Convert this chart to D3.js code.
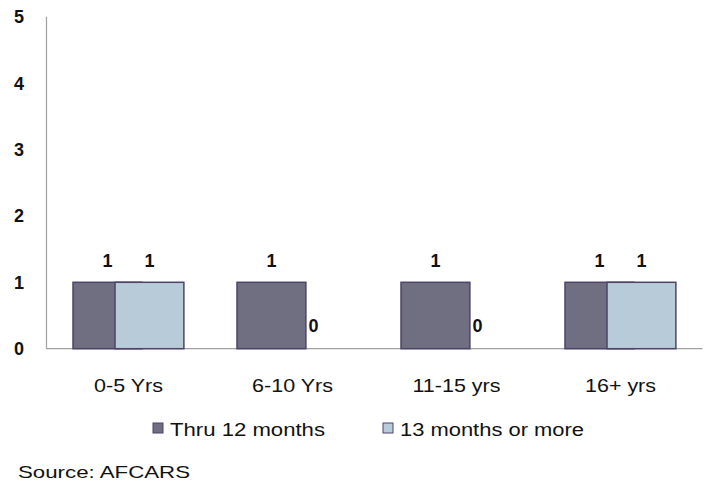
<!DOCTYPE html>
<html>
<head>
<meta charset="utf-8">
<script src="https://cdn.jsdelivr.net/npm/d3@7"></script>
<style>
  html, body { margin: 0; padding: 0; background: #fff; }
  svg { display: block; font-family: Arial, "Liberation Sans", sans-serif; }
</style>
</head>
<body>
<svg id="chart" width="707" height="484"></svg>
<script>
const categories = ["0-5 Yrs", "6-10 Yrs", "11-15 yrs", "16+ yrs"];
const seriesNames = ["Thru 12 months", "13 months or more"];
const thru12 = [1, 1, 1, 1];
const over13 = [1, 0, 0, 1];
const yTicks = [0, 1, 2, 3, 4, 5];
const sourceText = "Source: AFCARS";

const colors = ["#6f6f81", "#b8cbd9"];
const strokeCol = "#4e4368";

const svg = d3.select("#chart");
const x = d3.scaleBand().domain(categories).range([46.5, 702.5]).padding(0);
const y = d3.scaleLinear().domain([0, 5]).range([348.7, 16.7]);

const bw = x.bandwidth();
const barW = bw * 0.42;
const offsets = [bw * 0.1616, bw * 0.4177];
const series = [thru12, over13];

// axes lines
svg.append("line").attr("x1", 46.5).attr("x2", 46.5).attr("y1", y(5)).attr("y2", y(0))
  .attr("stroke", "#a0a0a0").attr("stroke-width", 1.2);
svg.append("line").attr("x1", 46.5).attr("x2", 702.5).attr("y1", y(0)).attr("y2", y(0))
  .attr("stroke", "#a0a0a0").attr("stroke-width", 1.2);

// y tick labels
svg.append("g").selectAll("text").data(yTicks).join("text")
  .attr("x", 24).attr("y", d => y(d)).attr("dy", "0.36em")
  .attr("text-anchor", "end").attr("font-size", 18).attr("font-weight", "bold")
  .attr("fill", "#111").text(d => d);

// bars
series.forEach((vals, si) => {
  svg.append("g").selectAll("rect").data(categories).join("rect")
    .attr("x", d => x(d) + offsets[si])
    .attr("y", (d, i) => y(vals[i]))
    .attr("width", barW)
    .attr("height", (d, i) => y(0) - y(vals[i]))
    .attr("fill", colors[si])
    .attr("stroke", strokeCol)
    .attr("stroke-width", 1.5)
    .attr("display", (d, i) => vals[i] > 0 ? null : "none");
});

// data labels
series.forEach((vals, si) => {
  svg.append("g").selectAll("text").data(categories).join("text")
    .attr("x", d => x(d) + offsets[si] + barW / 2)
    .attr("y", (d, i) => vals[i] > 0 ? y(vals[i]) - 15.5 : y(0) - 16.5)
    .attr("text-anchor", "middle").attr("font-size", 18).attr("font-weight", "bold")
    .attr("fill", "#111").text((d, i) => vals[i]);
});

// category labels
const catWidths = [69, 81, 88, 71];
svg.append("g").selectAll("text").data(categories).join("text")
  .attr("x", d => x(d) + bw / 2).attr("y", 392)
  .attr("text-anchor", "middle").attr("font-size", 18)
  .attr("fill", "#111")
  .attr("textLength", (d, i) => catWidths[i]).attr("lengthAdjust", "spacingAndGlyphs")
  .text(d => d);

// legend
const legend = [
  {sq: 153, tx: 170, w: 155},
  {sq: 383, tx: 400, w: 184}
];
legend.forEach((l, i) => {
  svg.append("rect").attr("x", l.sq).attr("y", 423).attr("width", 10).attr("height", 10)
    .attr("fill", colors[i]).attr("stroke", strokeCol).attr("stroke-width", 1);
  svg.append("text").attr("x", l.tx).attr("y", 436).attr("font-size", 18)
    .attr("fill", "#111").attr("textLength", l.w).attr("lengthAdjust", "spacingAndGlyphs")
    .text(seriesNames[i]);
});

// source
svg.append("text").attr("x", 18).attr("y", 478).attr("font-size", 17)
  .attr("fill", "#111").attr("textLength", 172).attr("lengthAdjust", "spacingAndGlyphs")
  .text(sourceText);
</script>
</body>
</html>
